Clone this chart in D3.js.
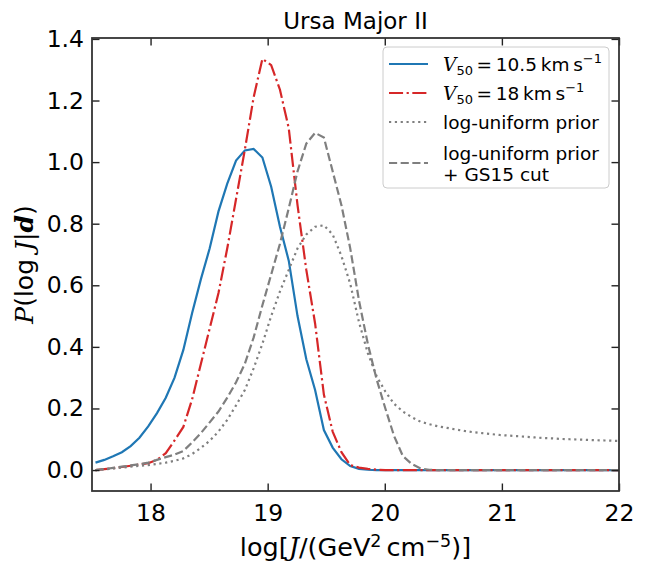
<!DOCTYPE html>
<html>
<head>
<meta charset="utf-8">
<script src="https://cdn.jsdelivr.net/npm/d3@7"></script>
<style>
  body { margin: 0; background: #fff; }
  text { font-family: "DejaVu Sans", sans-serif; fill: #000; }
  .math { font-family: "DejaVu Serif", serif; font-style: italic; }
</style>
</head>
<body>
<svg id="chart" width="647" height="561"></svg>
<script>
// log J grid and the four posterior curves
const logJ = [17.53, 17.605, 17.68, 17.755, 17.83, 17.905, 17.98, 18.055, 18.13, 18.205,
  18.28, 18.355, 18.43, 18.505, 18.58, 18.655, 18.73, 18.805, 18.88, 18.955,
  19.03, 19.105, 19.18, 19.255, 19.33, 19.405, 19.48, 19.555, 19.63, 19.705,
  19.78, 19.855, 19.93, 20.005, 20.08, 20.155, 20.23, 20.305, 20.38, 20.455,
  20.53, 20.605, 20.68, 20.755, 20.83, 20.905, 20.98, 21.055, 21.13, 21.205,
  21.28, 21.355, 21.43, 21.505, 21.58, 21.655, 21.73, 21.805, 21.88, 21.955, 22.03];

const v50low = [0.024, 0.033, 0.045, 0.058, 0.078, 0.105, 0.142, 0.185, 0.235, 0.30,
  0.39, 0.51, 0.62, 0.72, 0.84, 0.93, 1.005, 1.038, 1.043, 1.015,
  0.92, 0.79, 0.68, 0.50, 0.36, 0.26, 0.13, 0.073, 0.035, 0.013,
  0.004, 0.001, 0, 0, 0, 0, 0, 0, 0, 0,
  0, 0, 0, 0, 0, 0, 0, 0, 0, 0,
  0, 0, 0, 0, 0, 0, 0, 0, 0, 0, 0];

const v50high = [0.0, 0.003, 0.006, 0.01, 0.014, 0.018, 0.022, 0.033, 0.055, 0.096,
  0.14, 0.23, 0.345, 0.46, 0.575, 0.72, 0.88, 1.04, 1.21, 1.335,
  1.315, 1.235, 1.11, 0.86, 0.65, 0.476, 0.245, 0.125, 0.058, 0.016,
  0.008, 0.004, 0.001, 0, 0, 0, 0, 0, 0, 0,
  0, 0, 0, 0, 0, 0, 0, 0, 0, 0,
  0, 0, 0, 0, 0, 0, 0, 0, 0, 0, 0];

const logUniform = [0.0, 0.002, 0.005, 0.008, 0.011, 0.014, 0.016, 0.02, 0.024, 0.03,
  0.038, 0.052, 0.072, 0.095, 0.125, 0.163, 0.21, 0.26, 0.33, 0.41,
  0.50, 0.58, 0.65, 0.72, 0.765, 0.79, 0.795, 0.765, 0.695, 0.605,
  0.48, 0.38, 0.305, 0.255, 0.215, 0.19, 0.172, 0.157, 0.149, 0.142,
  0.137, 0.132, 0.127, 0.123, 0.12, 0.117, 0.114, 0.112, 0.11, 0.108,
  0.106, 0.104, 0.103, 0.101, 0.1, 0.099, 0.098, 0.097, 0.096, 0.095, 0.094];

const logUniformCut = [0.0, 0.003, 0.007, 0.011, 0.015, 0.019, 0.024, 0.033, 0.042, 0.05,
  0.062, 0.09, 0.12, 0.155, 0.19, 0.235, 0.285, 0.345, 0.43, 0.535,
  0.635, 0.735, 0.85, 0.97, 1.06, 1.095, 1.08, 0.97, 0.86, 0.72,
  0.55, 0.41, 0.295, 0.2, 0.11, 0.045, 0.02, 0.005, 0.001, 0,
  0, 0, 0, 0, 0, 0, 0, 0, 0, 0,
  0, 0, 0, 0, 0, 0, 0, 0, 0, 0, 0];

const xTicks = [18, 19, 20, 21, 22];
const yTicks = [0.0, 0.2, 0.4, 0.6, 0.8, 1.0, 1.2, 1.4];

const svg = d3.select("#chart");
const pLeft = 92, pRight = 619, pTop = 38, pBottom = 491;

const x = d3.scaleLinear().domain([17.5, 22]).range([pLeft, pRight]);
const y = d3.scaleLinear().domain([-0.068, 1.403]).range([pBottom, pTop]);

svg.append("defs").append("clipPath").attr("id", "plotclip")
  .append("rect")
  .attr("x", pLeft).attr("y", pTop)
  .attr("width", pRight - pLeft).attr("height", pBottom - pTop);

const lw = 2.2;
const series = [
  {values: v50low, color: "#1f77b4", dash: null},
  {values: v50high, color: "#d62728", dash: [6.4 * lw, 1.6 * lw, 1 * lw, 1.6 * lw].join(" ")},
  {values: logUniform, color: "#7f7f7f", dash: [1 * lw, 1.65 * lw].join(" ")},
  {values: logUniformCut, color: "#7f7f7f", dash: [3.7 * lw, 1.6 * lw].join(" ")}
];

const line = d3.line()
  .x((d, i) => x(logJ[i]))
  .y(d => y(d));

const plot = svg.append("g").attr("clip-path", "url(#plotclip)");
series.forEach(s => {
  plot.append("path")
    .datum(s.values)
    .attr("d", line)
    .attr("fill", "none")
    .attr("stroke", s.color)
    .attr("stroke-width", lw)
    .attr("stroke-dasharray", s.dash);
});

// axes, ticks pointing inwards on all four sides
const tickLen = 7.5;
const fontTick = "23.5px";

const gx = svg.append("g").attr("transform", `translate(0,${pBottom})`)
  .call(d3.axisBottom(x).tickValues(xTicks).tickSize(-tickLen).tickPadding(13).tickFormat(d3.format("d")));
const gxt = svg.append("g").attr("transform", `translate(0,${pTop})`)
  .call(d3.axisTop(x).tickValues(xTicks).tickSize(-tickLen).tickFormat(""));
const gy = svg.append("g").attr("transform", `translate(${pLeft},0)`)
  .call(d3.axisLeft(y).tickValues(yTicks).tickSize(-tickLen).tickPadding(8).tickFormat(d3.format(".1f")));
const gyr = svg.append("g").attr("transform", `translate(${pRight},0)`)
  .call(d3.axisRight(y).tickValues(yTicks).tickSize(-tickLen).tickFormat(""));

[gx, gxt, gy, gyr].forEach(g => {
  g.select(".domain").remove();
  g.selectAll(".tick line").attr("stroke", "#222").attr("stroke-width", 1.4);
  g.selectAll(".tick text")
    .attr("fill", "#000")
    .style("font-family", "'DejaVu Sans', sans-serif")
    .style("font-size", fontTick);
});

svg.append("rect")
  .attr("x", pLeft).attr("y", pTop)
  .attr("width", pRight - pLeft).attr("height", pBottom - pTop)
  .attr("fill", "none")
  .attr("stroke", "#333")
  .attr("stroke-width", 1.8);

// title
svg.append("text")
  .attr("x", (pLeft + pRight) / 2).attr("y", 29)
  .attr("text-anchor", "middle")
  .style("font-size", "23px")
  .text("Ursa Major II");

// x label: log[J/(GeV^2 cm^-5)]
const xl = svg.append("text")
  .attr("x", (pLeft + pRight) / 2).attr("y", 556)
  .attr("text-anchor", "middle")
  .style("font-size", "25.5px");
xl.append("tspan").text("log[");
xl.append("tspan").attr("class", "math").text("J");
xl.append("tspan").text("/(GeV");
xl.append("tspan").attr("dy", -9).style("font-size", "17.5px").text("2");
xl.append("tspan").attr("dy", 9).text("\u2009cm");
xl.append("tspan").attr("dy", -9).style("font-size", "17.5px").text("\u22125");
xl.append("tspan").attr("dy", 9).text(")]");

// y label: P(log J|d)
const yl = svg.append("text")
  .attr("transform", `translate(33,${(pTop + pBottom) / 2}) rotate(-90)`)
  .attr("text-anchor", "middle")
  .style("font-size", "25px");
yl.append("tspan").attr("class", "math").text("P");
yl.append("tspan").text("(log ");
yl.append("tspan").attr("class", "math").text("J");
yl.append("tspan").text("|");
yl.append("tspan").attr("class", "math").style("font-weight", "bold").text("d");
yl.append("tspan").text(")");

// legend
const lg = svg.append("g");
lg.append("rect")
  .attr("x", 383).attr("y", 47)
  .attr("width", 226).attr("height", 141)
  .attr("rx", 4)
  .attr("fill", "#fff").attr("fill-opacity", 0.8)
  .attr("stroke", "#cccccc").attr("stroke-width", 1);

const legendRows = [
  {s: series[0], y: 64, label: "10.5"},
  {s: series[1], y: 93, label: "18"},
  {s: series[2], y: 122, text: ["log-uniform prior"]},
  {s: series[3], y: 163, text: ["log-uniform prior", "+ GS15 cut"]}
];

const fontLeg = "18.5px";
legendRows.forEach(r => {
  lg.append("line")
    .attr("x1", 389).attr("x2", 428)
    .attr("y1", r.y).attr("y2", r.y)
    .attr("stroke", r.s.color)
    .attr("stroke-width", lw)
    .attr("stroke-dasharray", r.s.dash);
  if (r.label) {
    const t = lg.append("text")
      .attr("x", 443).attr("y", r.y + 7)
      .style("font-size", fontLeg);
    t.append("tspan").attr("class", "math").text("V");
    t.append("tspan").attr("dy", 4).style("font-size", "13px").text("50");
    t.append("tspan").attr("dy", -4).text("\u2009=\u2009" + r.label + "\u2009km\u2009s");
    t.append("tspan").attr("dy", -8).style("font-size", "13px").text("\u22121");
  } else {
    const n = r.text.length;
    r.text.forEach((str, k) => {
      lg.append("text")
        .attr("x", 443)
        .attr("y", r.y + 7 + (k - (n - 1) / 2) * 21)
        .style("font-size", fontLeg)
        .text(str);
    });
  }
});
</script>
</body>
</html>
